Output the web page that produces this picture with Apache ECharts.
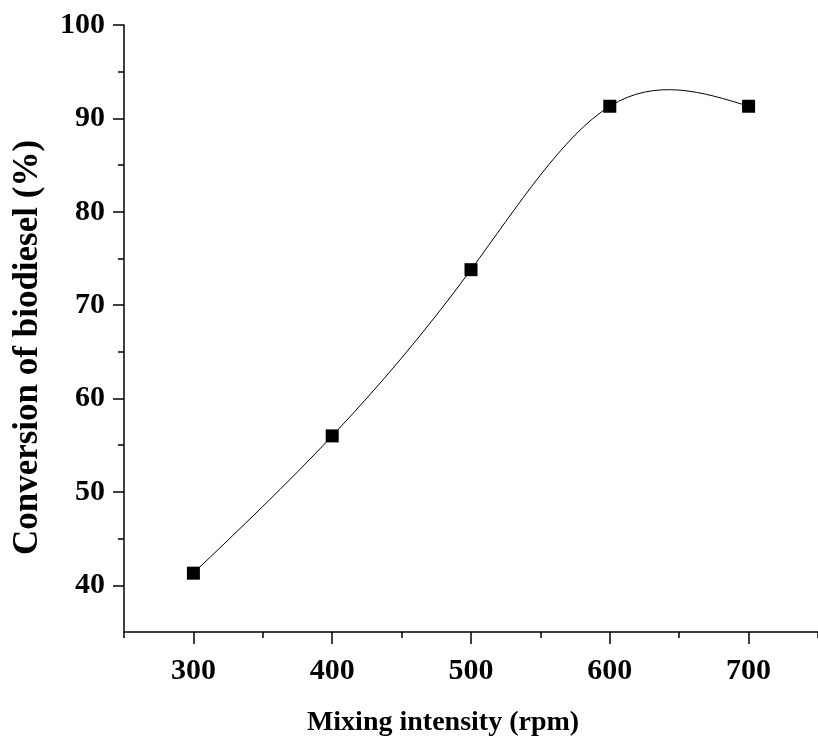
<!DOCTYPE html>
<html>
<head>
<meta charset="utf-8">
<title>Mixing intensity</title>
<script src="https://cdn.jsdelivr.net/npm/echarts@6/dist/echarts.min.js"></script>
<style>
	html, body { margin : 0; padding : 0; background : #fff; }
	#main { width : 818px; height : 742px; }
</style>
</head>
<body>
<div id="main"></div>
<script>
var speeds = [300, 400, 500, 600, 700];
var conversion = [41.3, 56.0, 73.8, 91.3, 91.3];
var xLabels = [300, 400, 500, 600, 700];
var xMinorTicks = [250, 350, 450, 550, 650, 750];
var yLabels = [40, 50, 60, 70, 80, 90, 100];
var yMinorTicks = [45, 55, 65, 75, 85, 95];

var font = 'Liberation Serif';

//natural cubic spline: second derivatives at each point
var splineM = function(xs, ys){
	var n = xs.length, m = [], a = [], b = [], c = [], d = [];
	for(var i = 0; i < n; i++){
		if(i === 0 || i === n - 1){
			a[i] = 0; b[i] = 1; c[i] = 0; d[i] = 0;
			continue;
		}
		var h0 = xs[i] - xs[i - 1], h1 = xs[i + 1] - xs[i];
		a[i] = h0;
		b[i] = 2 * (h0 + h1);
		c[i] = h1;
		d[i] = 6 * ((ys[i + 1] - ys[i]) / h1 - (ys[i] - ys[i - 1]) / h0);
	}
	for(var i = 1; i < n; i++){
		var w = a[i] / b[i - 1];
		b[i] -= w * c[i - 1];
		d[i] -= w * d[i - 1];
	}
	m[n - 1] = d[n - 1] / b[n - 1];
	for(var i = n - 2; i >= 0; i--){
		m[i] = (d[i] - c[i] * m[i + 1]) / b[i];
	}
	return m;
}
var M = splineM(speeds, conversion);

//刻度轴（长刻度+文字 / 短刻度）
var makeAxis = function(dir, min, max, values, len, showLine, showLabel){
	return {
		type : 'value',
		min : min,
		max : max,
		position : dir === 'x' ? 'bottom' : 'left',
		splitLine : { show : false },
		axisLine : {
			show : showLine,
			lineStyle : { color : '#000', width : 1.5 }
		},
		axisTick : {
			show : true,
			inside : false,
			length : len,
			customValues : values,
			lineStyle : { color : '#000', width : 1.5 }
		},
		axisLabel : {
			show : showLabel,
			customValues : values,
			margin : dir === 'x' ? 24 : 19,
			color : '#000',
			fontFamily : font,
			fontWeight : 'bold',
			fontSize : 30
		}
	};
}

var xMain = makeAxis('x', 250, 750, xLabels, 12, true, true);
xMain.name = 'Mixing intensity (rpm)';
xMain.nameLocation = 'middle';
xMain.nameGap = 77;
xMain.nameTextStyle = {
	color : '#000',
	fontFamily : font,
	fontWeight : 'bold',
	fontSize : 28,
	padding : [0, 56, 0, 0]
};

var yMain = makeAxis('y', 35, 100, yLabels, 11, true, true);
yMain.name = 'Conversion of biodiesel (%)';
yMain.nameLocation = 'middle';
yMain.nameGap = 79;
yMain.nameTextStyle = {
	color : '#000',
	fontFamily : font,
	fontWeight : 'bold',
	fontSize : 35,
	padding : [0, 38, 0, 0]
};

var points = speeds.map(function(s, i){ return [s, conversion[i]]; });

var chart = echarts.init(document.getElementById('main'));
var option = {
	backgroundColor : '#fff',
	animation : false,
	grid : {
		left : 124,
		right : -5,
		top : 25,
		bottom : 108
	},
	xAxis : [xMain, makeAxis('x', 250, 750, xMinorTicks, 6, false, false)],
	yAxis : [yMain, makeAxis('y', 35, 100, yMinorTicks, 6, false, false)],
	series : [{
		//spline segment from point i to i+1
		type : 'custom',
		xAxisIndex : 0,
		yAxisIndex : 0,
		data : points,
		z : 1,
		renderItem : function(params, api){
			var i = params.dataIndex;
			if(i >= speeds.length - 1){
				return;
			}
			var x0 = speeds[i], x1 = speeds[i + 1];
			var y0 = conversion[i], y1 = conversion[i + 1];
			var h = x1 - x0;
			var s0 = (y1 - y0) / h - h * (2 * M[i] + M[i + 1]) / 6;
			var s1 = (y1 - y0) / h + h * (M[i] + 2 * M[i + 1]) / 6;
			var p0 = api.coord([x0, y0]);
			var c0 = api.coord([x0 + h / 3, y0 + s0 * h / 3]);
			var c1 = api.coord([x1 - h / 3, y1 - s1 * h / 3]);
			var p1 = api.coord([x1, y1]);
			return {
				type : 'bezierCurve',
				shape : {
					x1 : p0[0], y1 : p0[1],
					cpx1 : c0[0], cpy1 : c0[1],
					cpx2 : c1[0], cpy2 : c1[1],
					x2 : p1[0], y2 : p1[1]
				},
				style : {
					fill : null,
					stroke : '#000',
					lineWidth : 1
				}
			};
		}
	}, {
		type : 'scatter',
		xAxisIndex : 0,
		yAxisIndex : 0,
		data : points,
		z : 2,
		symbol : 'rect',
		symbolSize : 13,
		itemStyle : { color : '#000', opacity : 1 }
	}]
};
chart.setOption(option);
</script>
</body>
</html>
